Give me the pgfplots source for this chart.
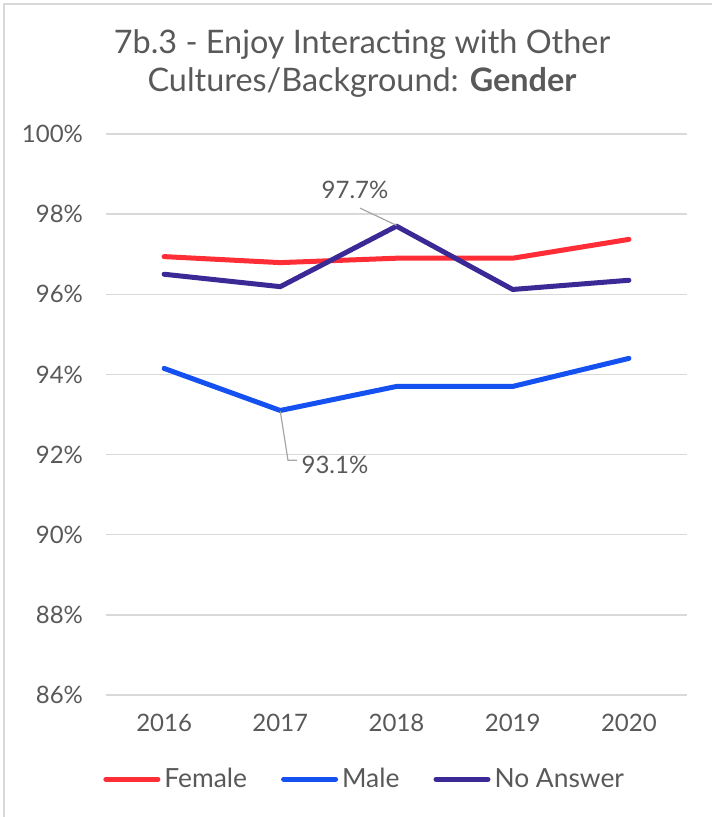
\documentclass[border=0pt]{standalone}
\usepackage{pgfplots}
\pgfplotsset{compat=1.18}
\usepackage{fontspec}
\setmainfont{Lato}
\definecolor{fem}{HTML}{FF2D35}
\definecolor{mal}{HTML}{1551F0}
\definecolor{noa}{HTML}{3B2A96}
\definecolor{txt}{HTML}{595959}
\definecolor{gridc}{HTML}{D9D9D9}
\begin{document}
\begin{tikzpicture}[x=0.5pt,y=0.5pt]
\path[use as bounding box] (0,0) rectangle (712,817);
\draw[gridc, line width=1pt] (4,0) -- (4,813) -- (712,813);
\node[text=txt, font=\fontsize{16.2}{19}\selectfont, align=center] at (362,753) {7b.3 - Enjoy Interacting with Other\\Cultures/Background: \textbf{Gender}};
\begin{axis}[
  at={(53pt,61pt)}, anchor=south west,
  scale only axis, width=290.5pt, height=280.5pt,
  xmin=-0.5, xmax=4.5, ymin=86, ymax=100,
  ytick={86,88,...,100},
  xtick={0,1,2,3,4},
  xticklabels={2016,2017,2018,2019,2020},
  axis line style={draw=none},
  major tick length=0pt,
  ymajorgrids, grid style={gridc, line width=0.75pt},
  tick label style={text=txt, font=\fontsize{12}{14}\selectfont},
  yticklabel={\pgfmathprintnumber[assume math mode=true,fixed,precision=0]{\tick}\%},
  yticklabel style={xshift=-8pt},
  xticklabel style={yshift=-6pt},
  clip=false,
  legend columns=3,
  legend style={draw=none, fill=none, at={(0.447,-0.15)}, anchor=center,
    font=\fontsize{13.2}{15}\selectfont, text=txt, inner xsep=0pt,
    nodes={inner xsep=2pt},
    /tikz/every even column/.append style={column sep=15pt}},
  legend image code/.code={\draw[line width=2.5pt, line cap=round] (0pt,0pt) -- (26pt,0pt);},
  every axis plot/.append style={line width=2.5pt, line join=round, line cap=round},
]
\addplot[fem] coordinates {(0,96.94) (1,96.79) (2,96.9) (3,96.9) (4,97.37)};
\addlegendentry{Female}
\addplot[mal] coordinates {(0,94.15) (1,93.1) (2,93.7) (3,93.7) (4,94.4)};
\addlegendentry{Male}
\addplot[noa] coordinates {(0,96.5) (1,96.19) (2,97.7) (3,96.12) (4,96.35)};
\addlegendentry{No Answer}
\draw[gray!70, line width=0.6pt] (axis cs:1.686,98.15) -- (axis cs:2,97.72);
\node[text=txt, font=\fontsize{12}{14}\selectfont] at (axis cs:1.643,98.6) {97.7\%};
\draw[gray!70, line width=0.6pt] (axis cs:1,93.08) -- (axis cs:1.066,91.86) -- (axis cs:1.144,91.86);
\node[text=txt, font=\fontsize{12}{14}\selectfont] at (axis cs:1.47,91.74) {93.1\%};
\end{axis}
\end{tikzpicture}
\end{document}
